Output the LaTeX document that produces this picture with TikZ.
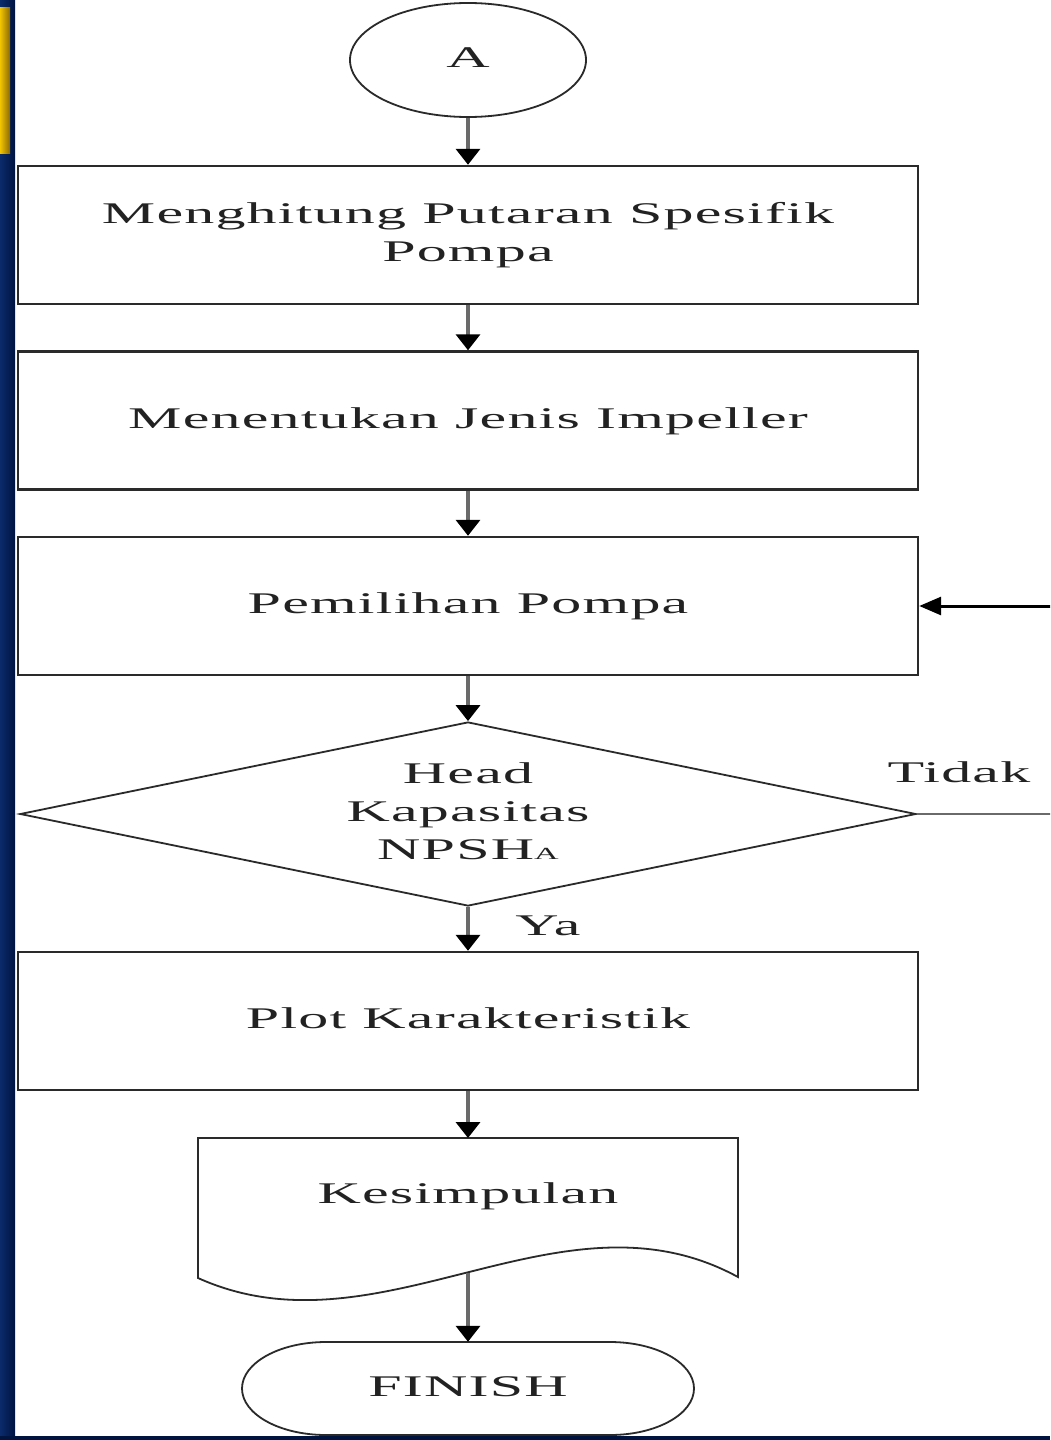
\documentclass[tikz,border=0pt]{standalone}
\usepackage{fontspec}
\setmainfont{Liberation Serif}[LetterSpace=2]
\usepackage{graphicx}
\usetikzlibrary{shapes.geometric,arrows.meta}
\definecolor{navyA}{HTML}{0A2A6A}
\definecolor{navyB}{HTML}{001440}
\definecolor{goldA}{HTML}{F2C400}
\definecolor{goldB}{HTML}{8A6A00}
\definecolor{boxc}{HTML}{2A2A2A}
\definecolor{arrc}{HTML}{6A6A6A}
\definecolor{txt}{HTML}{222222}
\newcommand{\sx}[1]{\scalebox{2.0}[1]{\begin{tabular}{@{}c@{}}#1\end{tabular}}}
\begin{document}
\begin{tikzpicture}[x=1pt,y=1pt,
  font=\fontsize{30}{38}\selectfont,
  every node/.style={text=txt},
  box/.style={draw=boxc, line width=2.4pt, minimum width=900pt, minimum height=138pt, inner sep=0pt},
  decision/.style={diamond, draw=boxc, line width=1.8pt, minimum width=896pt, minimum height=184pt, aspect=4.87, inner sep=0pt},
  termA/.style={ellipse, draw=boxc, line width=1.8pt, minimum width=236pt, minimum height=114pt, inner sep=0pt},
  outline/.style={draw=boxc, line width=1.8pt},
  flow/.style={draw=arrc, line width=3.5pt, -{Triangle[length=16pt,width=24pt,color=black,fill=black]}},
  backline/.style={draw=arrc, line width=2pt},
  backarrow/.style={draw=black, line width=3pt, -{Triangle[length=22pt,width=18pt,color=black,fill=black]}},
  lbl/.style={inner sep=0pt}
]
\clip (0,0) rectangle (1050,-1440);
\fill[white] (0,0) rectangle (1050,-1440);
\shade[left color=navyA, right color=navyB] (0,0) rectangle (15,-1440);
\fill[navyB] (0,-1436) rectangle (1050,-1440);
\shade[left color=goldA, right color=goldB] (0,-7) rectangle (10,-153);

\node[termA] (A) at (468,-60) {\sx{A}};
\node[box] (b1) at (468,-235) {\sx{Menghitung Putaran Spesifik\\Pompa}};
\node[box] (b2) at (468,-420.5) {\sx{Menentukan Jenis Impeller}};
\node[box] (b3) at (468,-606) {\sx{Pemilihan Pompa}};
\node[decision] (d) at (468,-814) {\sx{Head\\Kapasitas\\NPSH{\fontsize{17}{17}\selectfont A}}};
\node[box] (b4) at (468,-1021) {\sx{Plot Karakteristik}};

\node[lbl] (k) at (468,-1196) {\sx{Kesimpulan}};
\draw[outline] (198,-1138) -- (738,-1138) -- (738,-1277)
  .. controls (560,-1180) and (380,-1360) .. (198,-1278) -- cycle;
\coordinate (ktop) at (468,-1138);
\coordinate (kbot) at (468,-1273);

\node[minimum width=452pt, minimum height=93pt, inner sep=0pt] (f) at (468,-1388.5) {\sx{FINISH}};
\draw[outline] (326,-1342) -- (610,-1342)
  arc[start angle=90, end angle=-90, x radius=84, y radius=46.5]
  -- (326,-1435)
  arc[start angle=270, end angle=90, x radius=84, y radius=46.5] -- cycle;

\node[lbl] (tidak) at (959,-775) {\sx{Tidak}};
\node[lbl] (ya) at (548,-928) {\sx{Ya}};

\draw[flow] (A.south) -- (b1.north);
\draw[flow] (b1.south) -- (b2.north);
\draw[flow] (b2.south) -- (b3.north);
\draw[flow] (b3.south) -- (d.north);
\draw[flow] (d.south) -- (b4.north);
\draw[flow] (b4.south) -- (ktop);
\draw[flow] (kbot) -- (f.north);

\coordinate (r1) at (1075,-814);
\coordinate (r2) at (1075,-606);
\draw[backline] (d.east) -- (r1) -- (r2);
\draw[backarrow] (r2) -- (b3.east);
\end{tikzpicture}
\end{document}
